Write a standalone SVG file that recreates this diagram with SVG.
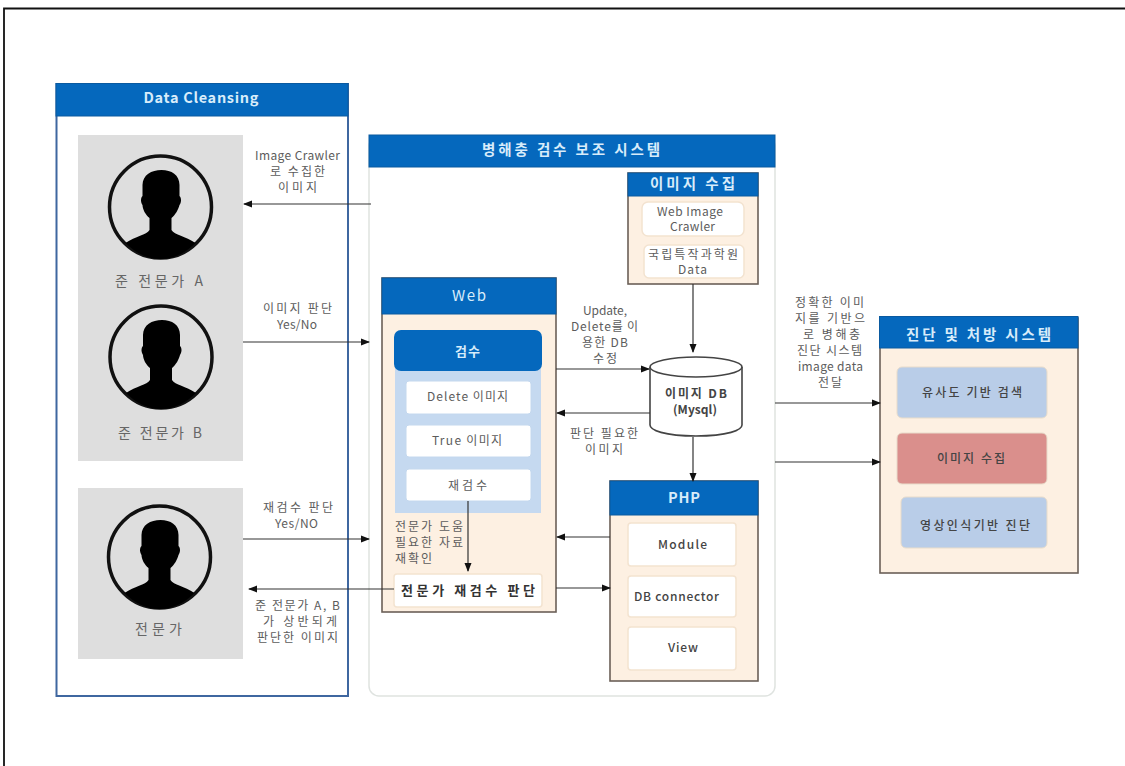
<svg xmlns="http://www.w3.org/2000/svg" width="1125" height="766" viewBox="0 0 1125 766">
<style>
text{font-family:"Noto Sans CJK KR","Noto Sans",sans-serif;text-anchor:middle;fill:#5c5c5c;font-size:12px}
.h{fill:#0568bd;stroke:#0a5aa0;stroke-width:1}
.ht{fill:#d8ecfa;font-weight:700;font-size:14.500px}
.peach{fill:#fdf0e2;stroke:#6b6058;stroke-width:1.6}
.w{fill:#fff;stroke:#f3e3d0;stroke-width:1.5}
.wb{fill:#fff;stroke:#c4d8ee;stroke-width:1}
.l{font-size:14px;fill:#666}
.d{fill:#444;font-weight:500}
.gray{fill:#dedede;stroke:none}
.c{fill:none;stroke:#333;stroke-width:1.2;marker-end:url(#a)}
</style>
<defs>
<marker id="a" markerUnits="userSpaceOnUse" markerWidth="9" markerHeight="8" refX="8" refY="4" orient="auto"><path d="M0 0.500L9 4L0 7.500Z" fill="#111"/></marker>
<g id="person">
<circle cx="0" cy="0" r="51" fill="none" stroke="#111" stroke-width="3.500"/>
<path d="M-35 36C-25 29-14 28-11 23V11C-15 8-18 2-18 -2C-20 -5-20 -9-18 -11V-22C-18 -32-9 -37 1 -37C11 -37 19 -32 19 -22V-11C21 -9 21 -5 19 -2C18 2 15 8 11 11V23C14 28 25 29 35 36C25 46 13 52 0 52C-13 52-25 46-35 36Z" fill="#000"/>
</g>
</defs>
<rect width="1125" height="766" fill="#fff"/>
<path d="M4 766V8.500H1125" fill="none" stroke="#111" stroke-width="1.800"/>

<g id="data-cleansing">
<rect x="56.500" y="84" width="291.500" height="612" fill="#fff" stroke="#3f67a0" stroke-width="2"/>
<rect class="h" x="56" y="83.500" width="292" height="32.500"/>
<text class="ht" x="201" y="103" textLength="115">Data Cleansing</text>
</g>
<g id="experts-ab">
<rect class="gray" x="78" y="135" width="165" height="326"/>
<use href="#person" x="160.500" y="207"/>
<text class="l" x="159" y="286" textLength="88">준 전문가 A</text>
<use href="#person" x="161" y="357"/>
<text class="l" x="160" y="438" textLength="84">준 전문가 B</text>
</g>
<g id="expert">
<rect class="gray" x="78" y="488" width="165" height="171"/>
<use href="#person" x="159.500" y="557"/>
<text class="l" x="158.500" y="634" textLength="47">전문가</text>
</g>

<g id="main-system">
<rect x="369" y="136" width="406" height="560" rx="10" fill="#fff" stroke="#dfe3e0" stroke-width="1.500"/>
<rect class="h" x="369" y="135" width="406" height="32"/>
<text class="ht" x="571" y="155" textLength="178">병해충 검수 보조 시스템</text>
</g>
<g id="image-collect">
<rect class="peach" x="628" y="173" width="130" height="111"/>
<rect class="h" x="628" y="173" width="130" height="23"/>
<text class="ht" x="692.500" y="188.500" textLength="85">이미지 수집</text>
<rect class="w" x="642" y="202" width="102" height="34" rx="6"/>
<text x="690" y="216" textLength="66">Web Image</text>
<text x="692.500" y="231" textLength="45">Crawler</text>
<rect class="w" x="644" y="245" width="100" height="33" rx="5"/>
<text x="693" y="259" textLength="90">국립특작과학원</text>
<text x="692.500" y="274" textLength="29">Data</text>
</g>
<g id="web">
<rect class="peach" x="382" y="278" width="174" height="334"/>
<rect class="h" x="382" y="278" width="174" height="36"/>
<text x="469" y="301" style="font-size:15px;fill:#d8ecfa" textLength="34">Web</text>
<rect x="395" y="352" width="146" height="161" fill="#c5d9f0"/>
<rect x="394" y="330" width="148" height="41" rx="7" fill="#0568bd"/>
<text class="ht" x="467.500" y="356" style="font-size:13px" textLength="25">검수</text>
<rect class="wb" x="406" y="381" width="125" height="33" rx="3"/>
<text x="467.500" y="401" textLength="81">Delete 이미지</text>
<rect class="wb" x="406" y="425" width="125" height="32" rx="3"/>
<text x="467" y="445" textLength="70">True 이미지</text>
<rect class="wb" x="406" y="469" width="125" height="32" rx="3"/>
<text x="467.500" y="490" textLength="39">재검수</text>
<text x="429" y="531" textLength="68">전문가 도움</text>
<text x="429" y="547" textLength="68">필요한 자료</text>
<text x="413.500" y="563" textLength="37">재확인</text>
<rect class="w" x="394" y="574" width="148" height="33" rx="3"/>
<text x="468" y="595" style="font-size:13px;font-weight:700;fill:#333" textLength="134">전문가 재검수 판단</text>
</g>
<g id="image-db">
<path d="M650 367V425C650 430 664 436 696 436C728 436 742 430 742 425V367" fill="#fff" stroke="#444" stroke-width="1.600"/>
<ellipse cx="696" cy="367" rx="46" ry="10" fill="#fff" stroke="#444" stroke-width="1.600"/>
<text class="d" x="696" y="398" style="font-weight:700" textLength="62">이미지 DB</text>
<text class="d" x="695" y="414" style="font-weight:700" textLength="44">(Mysql)</text>
</g>
<g id="php">
<rect class="peach" x="610" y="481" width="148" height="200"/>
<rect class="h" x="610" y="481" width="148" height="34"/>
<text class="ht" x="684" y="503" textLength="32">PHP</text>
<rect class="w" x="628" y="523" width="108" height="43" rx="3"/>
<text class="d" x="682.500" y="549" textLength="49">Module</text>
<rect class="w" x="628" y="576" width="108" height="41" rx="3"/>
<text class="d" x="676.500" y="601" textLength="85">DB connector</text>
<rect class="w" x="628" y="627" width="108" height="43" rx="3"/>
<text class="d" x="683" y="652" textLength="30">View</text>
</g>
<g id="diagnosis">
<rect class="peach" x="880" y="318" width="198" height="255"/>
<rect class="h" x="879.500" y="316.500" width="198.500" height="31.500"/>
<text class="ht" x="978.500" y="340" textLength="145">진단 및 처방 시스템</text>
<rect x="897" y="367" width="150" height="51" rx="5" fill="#b9cde8" stroke="#e8dccb"/>
<text class="d" x="972" y="397" textLength="100">유사도 기반 검색</text>
<rect x="897" y="433" width="150" height="51" rx="5" fill="#da8f8c" stroke="#e8dccb"/>
<text class="d" x="971" y="463" textLength="68">이미지 수집</text>
<rect x="901" y="497" width="146" height="51" rx="5" fill="#b9cde8" stroke="#e8dccb"/>
<text class="d" x="975" y="530" textLength="110">영상인식기반 진단</text>
</g>

<g id="connectors">
<path class="c" d="M371 204H244"/>
<path class="c" d="M243 342H369"/>
<path class="c" d="M243 539H369"/>
<path class="c" d="M394 589H249"/>
<path class="c" d="M693 284V352"/>
<path class="c" d="M556 369H649"/>
<path class="c" d="M650 413H557"/>
<path class="c" d="M693 437V481"/>
<path class="c" d="M610 537H557"/>
<path class="c" d="M556 588H610"/>
<path class="c" d="M468 501V571"/>
<path class="c" d="M775 403H880"/>
<path class="c" d="M775 462H880"/>
</g>

<g id="labels">
<text x="297.500" y="160" textLength="85">Image Crawler</text>
<text x="297.500" y="176" textLength="55">로 수집한</text>
<text x="297.500" y="192" textLength="39">이미지</text>
<text x="297.500" y="313" textLength="69">이미지 판단</text>
<text x="297" y="329" textLength="40">Yes/No</text>
<text x="298" y="512" textLength="70">재검수 판단</text>
<text x="296.500" y="528" textLength="43">Yes/NO</text>
<text x="297.500" y="610" textLength="85">준 전문가 A, B</text>
<text x="300" y="626" textLength="74">가 상반되게</text>
<text x="297.500" y="642" textLength="81">판단한 이미지</text>
<text x="605" y="315" textLength="44">Update,</text>
<text x="604.500" y="331" textLength="67">Delete를 이</text>
<text x="605" y="347" textLength="46">용한 DB</text>
<text x="605" y="363" textLength="24">수정</text>
<text x="604" y="438" textLength="68">판단 필요한</text>
<text x="604" y="454" textLength="38">이미지</text>
<text x="829.500" y="307" textLength="69">정확한 이미</text>
<text x="830" y="323" textLength="70">지를 기반으</text>
<text x="831.500" y="339" textLength="57">로 병해충</text>
<text x="829.500" y="355" textLength="65">진단 시스템</text>
<text x="830.500" y="371" textLength="65">image data</text>
<text x="830" y="387" textLength="24">전달</text>
</g>
</svg>
